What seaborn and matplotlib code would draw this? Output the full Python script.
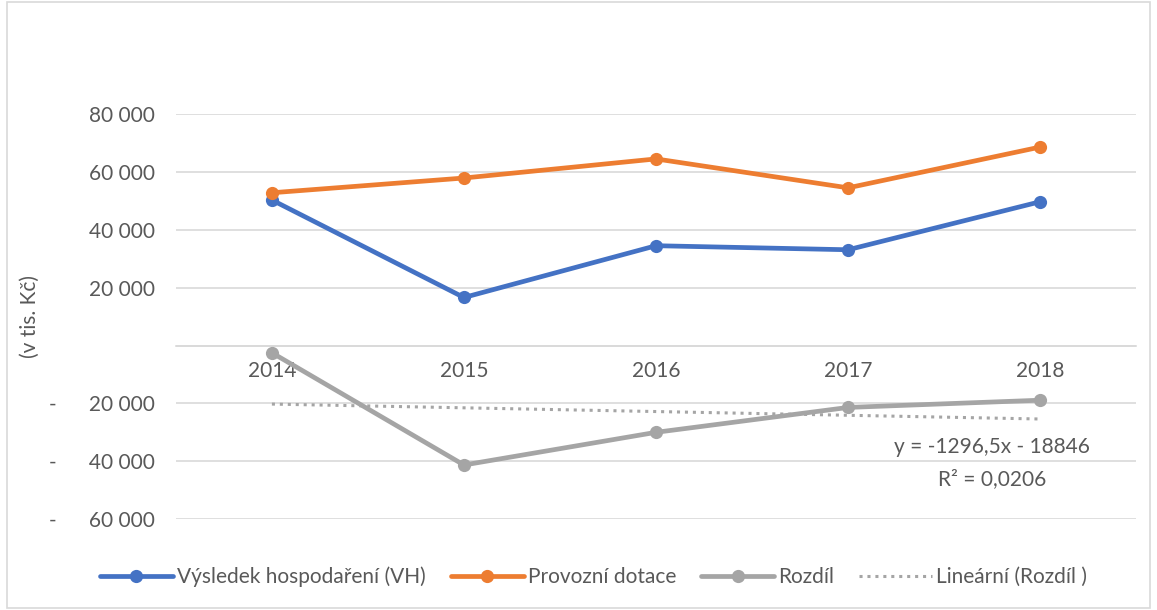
import numpy as np
import pandas as pd
import matplotlib
matplotlib.use("Agg")
import matplotlib.pyplot as plt
from matplotlib.lines import Line2D
from matplotlib.patches import Rectangle
import seaborn as sns

years = ["2014", "2015", "2016", "2017", "2018"]
vh = [50300, 16600, 34500, 33100, 49700]
dotace = [52800, 57900, 64500, 54500, 68600]
rozdil = [-2500, -41300, -30000, -21400, -18900]
series_names = ["Výsledek hospodaření (VH)", "Provozní dotace", "Rozdíl"]
trend_label = "Lineární (Rozdíl )"
colors = ["#4472C4", "#ED7D31", "#A5A5A5"]

sns.set_theme(style="white")
plt.rcParams["font.family"] = ["Lato", "DejaVu Sans"]
text_color = "#595959"
fs = 15

df = pd.DataFrame({
    "pos": list(range(len(years))) * 3,
    "value": vh + dotace + rozdil,
    "series": [s for s in series_names for _ in years],
})

fig = plt.figure(figsize=(11.57, 6.10), dpi=100)
ax = fig.add_axes([0.152, 0.149, 0.830, 0.664])

sns.lineplot(data=df, x="pos", y="value", hue="series", hue_order=series_names,
             palette=colors, marker="o", markersize=9.5, markeredgewidth=0,
             linewidth=3.4, legend=False, ax=ax, zorder=3)

# linear trend of Rozdil, x = 1..5 like Excel
xs = np.arange(1, len(years) + 1)
k, q = np.polyfit(xs, rozdil, 1)
ax.plot(np.arange(len(years)), k * xs + q, linestyle=(0, (1, 1.6)),
        color="#A5A5A5", linewidth=2.2, zorder=2)
ax.text(3.75, -35200, "y = -1296,5x - 18846", ha="center", va="center",
        fontsize=fs, color=text_color)
ax.text(3.75, -46200, "R² = 0,0206", ha="center", va="center",
        fontsize=fs, color=text_color)

for side in ["top", "right", "left"]:
    ax.spines[side].set_visible(False)
ax.spines["bottom"].set_position(("data", 0))
ax.spines["bottom"].set_color("#D9D9D9")
ax.spines["bottom"].set_linewidth(1.2)

ax.set_xlim(-0.5, len(years) - 0.5)
ax.set_ylim(-60000, 80000)
yt = list(range(-60000, 80001, 20000))
ax.set_yticks(yt)

def fmt(v):
    if v == 0:
        return ""
    s = f"{abs(v):,}".replace(",", " ")
    return ("-" + " " * 6 + s) if v < 0 else s

ax.set_yticklabels([fmt(v) for v in yt], fontsize=fs, color=text_color)
ax.set_xticks(range(len(years)))
ax.set_xticklabels(years, fontsize=fs, color=text_color)
ax.tick_params(axis="both", length=0)
ax.tick_params(axis="x", pad=11)
ax.tick_params(axis="y", pad=15)
ax.grid(axis="y", color="#D9D9D9", linewidth=1.2)
ax.set_xlabel("")
ax.set_ylabel("(v tis. Kč)", fontsize=fs, color=text_color)
ax.yaxis.set_label_coords(-0.142, 0.5)

handles = [Line2D([], [], color=c, linewidth=3.4, marker="o", markersize=9.5,
                  markeredgewidth=0) for c in colors]
handles.append(Line2D([], [], color="#A5A5A5", linewidth=2.2, linestyle=(0, (1, 1.6))))
fig.legend(handles, series_names + [trend_label], loc="center",
           bbox_to_anchor=(0.513, 0.054), ncol=4, frameon=False, fontsize=fs,
           handlelength=3.5, columnspacing=1.2, handletextpad=0.2,
           labelcolor=text_color)

fig.patches.append(Rectangle((0.006, 0.003), 0.988, 0.994, transform=fig.transFigure,
                             fill=False, edgecolor="#D9D9D9", linewidth=1.2))

fig.savefig("out.png", dpi=100)
